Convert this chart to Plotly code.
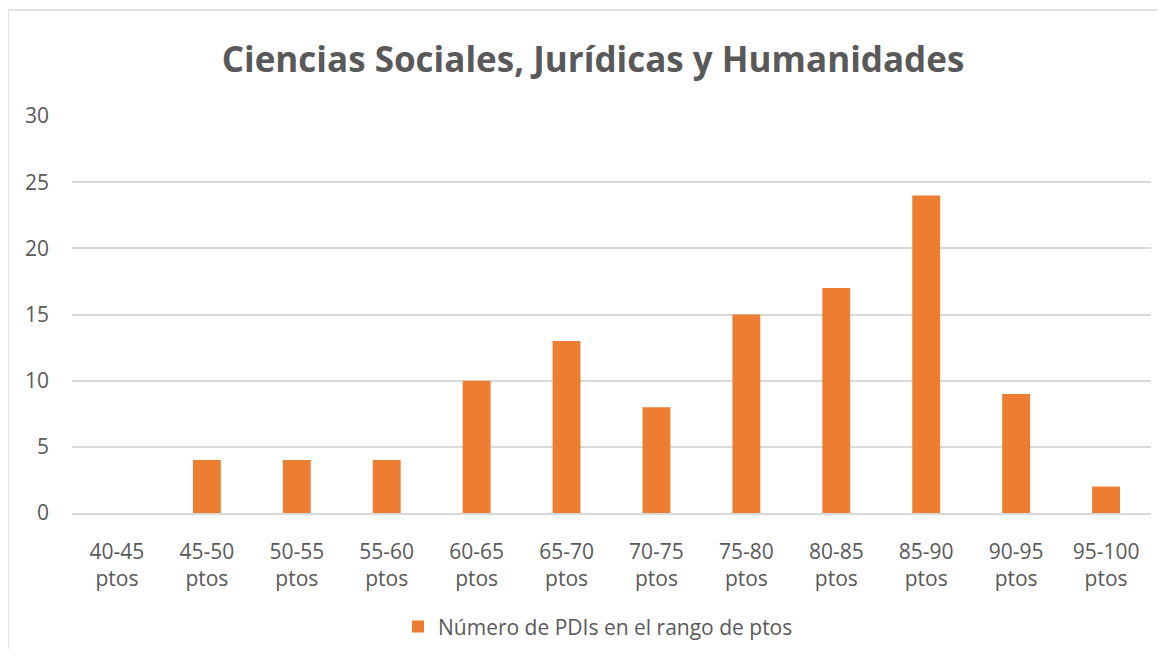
import plotly.graph_objects as go

# Rangos de puntos y número de PDIs
rangos = ["40-45<br>ptos", "45-50<br>ptos", "50-55<br>ptos", "55-60<br>ptos",
          "60-65<br>ptos", "65-70<br>ptos", "70-75<br>ptos", "75-80<br>ptos",
          "80-85<br>ptos", "85-90<br>ptos", "90-95<br>ptos", "95-100<br>ptos"]
num_pdis = [0, 4, 4, 4, 10, 13, 8, 15, 17, 24, 9, 2]

gris = "#595959"

fig = go.Figure()
fig.add_trace(go.Bar(
    x=rangos,
    y=num_pdis,
    name="Número de PDIs en el rango de ptos",
    marker=dict(color="#ED7D31", line=dict(width=0)),
))

fig.update_layout(
    width=1150,
    height=641,
    margin=dict(l=64, r=7, t=108, b=136, autoexpand=False),
    paper_bgcolor="white",
    plot_bgcolor="white",
    font=dict(family="Open Sans", color=gris, size=21),
    bargap=0.69,
    title=dict(
        text="<b>Ciencias Sociales, Jurídicas y Humanidades</b>",
        x=0.5087, xanchor="center",
        y=0.919, yanchor="middle",
        font=dict(size=35, color=gris, family="Open Sans"),
    ),
    showlegend=True,
    legend=dict(
        orientation="h",
        x=0.4875, xanchor="center",
        y=-0.287, yanchor="middle",
        font=dict(size=21, color=gris),
        itemwidth=30,
    ),
    xaxis=dict(
        showgrid=False,
        showline=True,
        linecolor="#D9D9D9",
        linewidth=1.5,
        tickfont=dict(size=21, color=gris),
        ticks="",
        ticklabelstandoff=19,
        automargin=False,
    ),
    yaxis=dict(
        range=[0, 30],
        dtick=5,
        showgrid=True,
        gridcolor="#D9D9D9",
        gridwidth=1.5,
        zeroline=False,
        showline=False,
        tickfont=dict(size=21, color=gris),
        ticklabelstandoff=22,
        automargin=False,
    ),
    shapes=[
        dict(type="line", xref="paper", yref="paper",
             x0=-0.0593, x1=-0.0593, y0=1.267, y1=-0.37,
             line=dict(color="#D9D9D9", width=1.5)),
        dict(type="line", xref="paper", yref="paper",
             x0=-0.0593, x1=1.02, y0=1.267, y1=1.267,
             line=dict(color="#D9D9D9", width=1.5)),
    ],
)

fig.write_html("out.html")
